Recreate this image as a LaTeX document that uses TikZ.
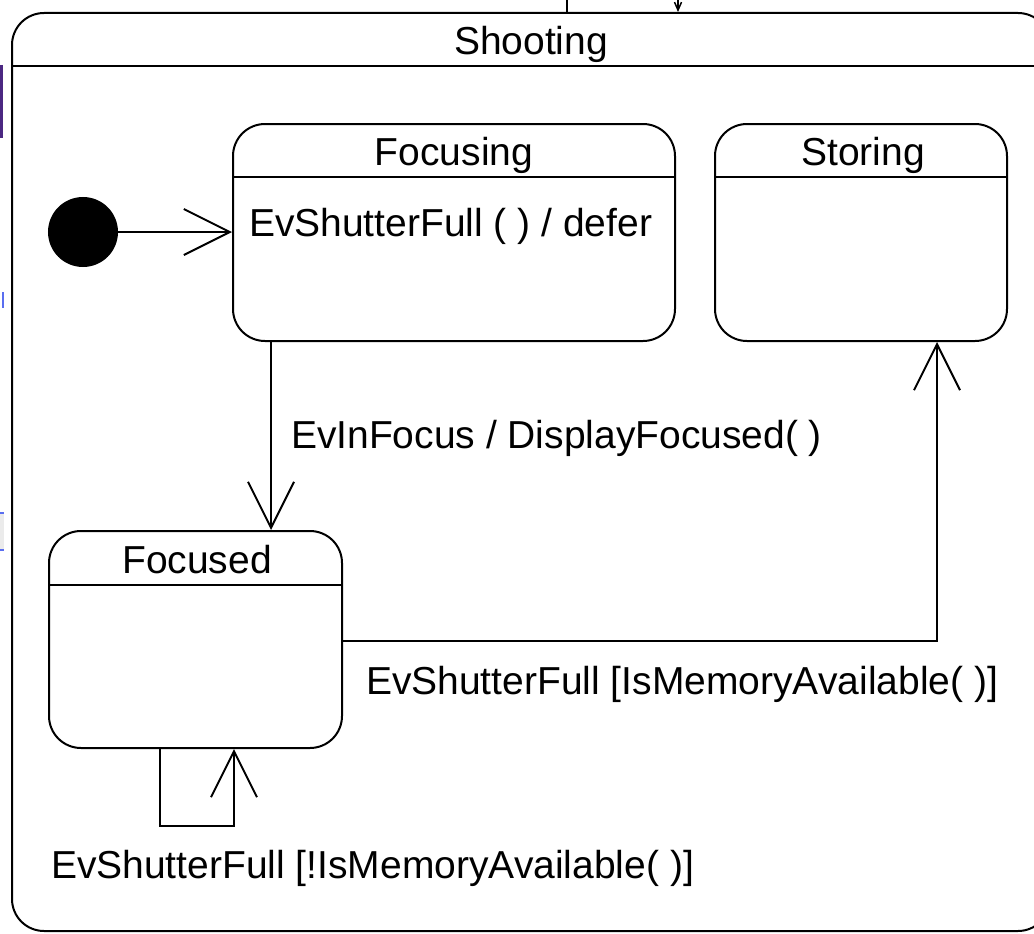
\documentclass[tikz,border=0pt]{standalone}
\usepackage{fontspec}
\setmainfont{Liberation Sans}
\usetikzlibrary{arrows.meta}
\definecolor{edgepurple}{RGB}{75,40,130}
\definecolor{edgeblue}{RGB}{90,110,240}
\begin{document}
\begin{tikzpicture}[x=1pt,y=-1pt,
  line width=2pt,
  lbl/.style={inner sep=0pt, font=\fontsize{39pt}{47pt}\selectfont},
  statebox/.style={draw, rectangle, rounded corners=32pt, inner sep=0pt, line width=2pt},
  trans/.style={-{Straight Barb[length=46pt,width=46pt,line width=2pt]}},
  smalltrans/.style={-{Straight Barb[length=8pt,width=7pt,line width=1.5pt]}}
]
\useasboundingbox (0,0) rectangle (1034,934);

% outer composite state
\node[statebox, minimum width=1038pt, minimum height=918pt] (shooting) at (531,472) {};
\draw ([yshift=-54pt]shooting.north west) -- ([yshift=-54pt]shooting.north east);
\node[lbl, anchor=base] (shootingTitle) at (531,55) {Shooting};

% incoming transitions from outside
\coordinate (stubA) at (567,0);
\coordinate (stubB) at (678,0);
\draw (stubA) -- (shooting.north -| stubA);
\draw[smalltrans] (stubB) -- (shooting.north -| stubB);

% sub-states
\node[statebox, minimum width=442pt, minimum height=217pt] (focusing) at (454,232.5) {};
\draw ([yshift=-54pt]focusing.north west) -- ([yshift=-54pt]focusing.north east);
\node[lbl, anchor=base] (focusingTitle) at (454,165) {Focusing};
\node[lbl, anchor=base west] (deferText) at (248,236) {EvShutterFull ( ) / defer};

\node[statebox, minimum width=292pt, minimum height=217pt] (storing) at (861,232.5) {};
\draw ([yshift=-54pt]storing.north west) -- ([yshift=-54pt]storing.north east);
\node[lbl, anchor=base] (storingTitle) at (863,165) {Storing};

\node[statebox, minimum width=293pt, minimum height=217pt] (focused) at (195.5,639.5) {};
\draw ([yshift=-55pt]focused.north west) -- ([yshift=-55pt]focused.north east);
\node[lbl, anchor=base] (focusedTitle) at (197,573) {Focused};

% initial pseudo-state
\node[circle, fill=black, draw=black, minimum size=68pt, inner sep=0pt] (init) at (83,232) {};
\draw[trans] (init.east) -- (focusing.west |- init.east);

% Focusing -> Focused
\coordinate (downX) at (271,0);
\draw[trans] (focusing.south -| downX) -- (focused.north -| downX);
\node[lbl, anchor=base west] (inFocusLbl) at (290,448) {EvInFocus / DisplayFocused( )};

% Focused -> Storing
\coordinate (rightY) at (0,641);
\coordinate (upX) at (937,0);
\coordinate (bend) at (937,641);
\draw[trans] (focused.east |- rightY) -- (bend) -- (storing.south -| upX);
\node[lbl, anchor=base west] (memLbl) at (365,694) {EvShutterFull [IsMemoryAvailable( )]};

% Focused self transition
\coordinate (loopA) at (160,826);
\coordinate (loopB) at (234,826);
\draw[trans] (focused.south -| loopA) -- (loopA) -- (loopB) -- (focused.south -| loopB);
\node[lbl, anchor=base west] (noMemLbl) at (50,878) {EvShutterFull [!IsMemoryAvailable( )]};

% fragments of neighbouring elements at the left edge
\draw[edgepurple, line width=3pt] (1.5,65) -- (1.5,138);
\draw[edgeblue, line width=2pt] (3,292) -- (3,308);
\fill[black!8] (0,512) rectangle (4,551);
\draw[edgeblue, line width=2pt] (0,513) -- (4,513);
\draw[edgeblue, line width=2pt] (0,550) -- (4,550);
\end{tikzpicture}
\end{document}
